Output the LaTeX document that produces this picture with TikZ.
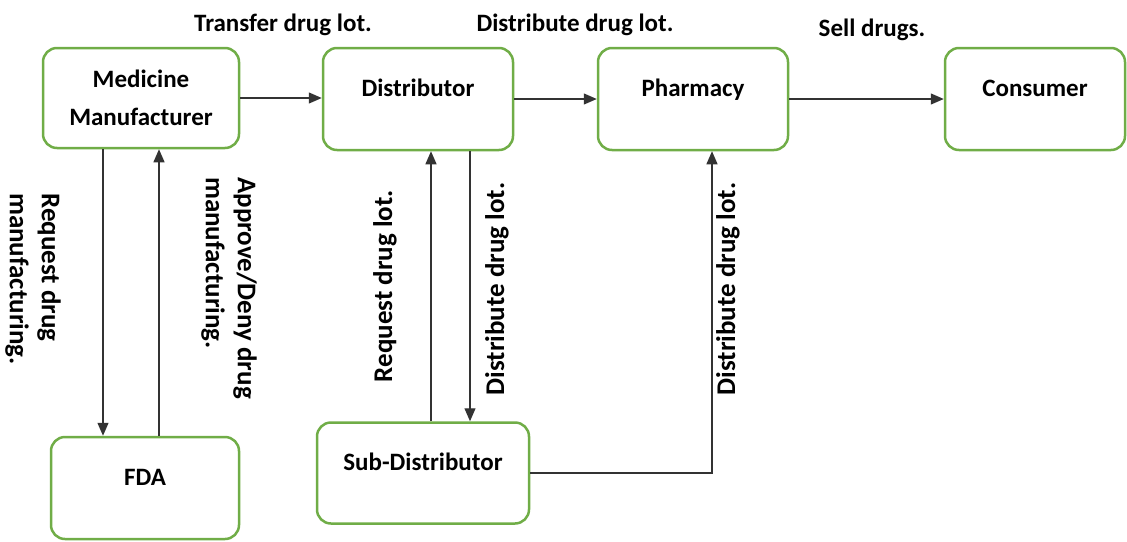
\documentclass[tikz,border=0pt]{standalone}
\usepackage{fontspec}
\setmainfont{Carlito}
\usetikzlibrary{arrows.meta}
\definecolor{boxgreen}{HTML}{70AD47}

\tikzset{actornode/.style={rectangle, draw=boxgreen, line width=2.5pt, rounded corners=14pt, font=\bfseries\fontsize{25}{38}\selectfont, align=center}}
\tikzset{singlenode/.style={actornode, text height=17pt, text depth=22pt}}
\tikzset{flowlabel/.style={font=\bfseries\fontsize{25}{31}\selectfont, align=left, inner sep=0pt}}
\tikzset{sidelabel/.style={flowlabel, font=\bfseries\fontsize{27}{32}\selectfont}}
\tikzset{flowarrow/.style={-{Triangle[length=13pt,width=11pt]}, line width=1.3pt, draw=black!80}}

\begin{document}
\begin{tikzpicture}[x=1pt,y=-1pt]
		\useasboundingbox (0,0) rectangle (1127,541);

		%actors
		\node[actornode, minimum width=196pt, minimum height=100pt] (manu) at (141,98) {Medicine\\Manufacturer};
		\node[singlenode, minimum width=190pt, minimum height=102pt] (dist) at (418,99) {Distributor};
		\node[singlenode, minimum width=190pt, minimum height=102pt] (pharm) at (693,99) {Pharmacy};
		\node[singlenode, minimum width=180pt, minimum height=102pt] (cons) at (1035,99) {Consumer};
		\node[singlenode, minimum width=188pt, minimum height=102pt] (fda) at (145,488) {FDA};
		\node[singlenode, minimum width=212pt, minimum height=101pt] (subdist) at (423,473) {Sub-Distributor};

		%supply chain
		\draw[flowarrow] (manu.east) -- (manu.east -| dist.west);
		\draw[flowarrow] (dist.east) -- (pharm.west);
		\draw[flowarrow] (pharm.east) -- (cons.west);

		\node[flowlabel, anchor=base] (transferlbl) at (283,31) {Transfer drug lot.};
		\node[flowlabel, anchor=base] (distlbl) at (575,31) {Distribute drug lot.};
		\node[flowlabel, anchor=base] (selllbl) at (872,36) {Sell drugs.};

		%approval
		\draw[flowarrow] ([xshift=-38pt]manu.south) -- ([xshift=-38pt]manu.south |- fda.north);
		\draw[flowarrow] ([xshift=14pt]fda.north) -- ([xshift=14pt]fda.north |- manu.south);

		\node[sidelabel, rotate=-90, anchor=west] (reqmanulbl) at (33,193) {Request drug\\manufacturing.};
		\node[sidelabel, rotate=-90, anchor=west] (approvelbl) at (229,177) {Approve/Deny drug\\manufacturing.};

		%sub-distribution
		\draw[flowarrow] ([xshift=8pt]subdist.north) -- ([xshift=8pt]subdist.north |- dist.south);
		\draw[flowarrow] ([xshift=52pt]dist.south) -- ([xshift=52pt]dist.south |- subdist.north);
		\draw[flowarrow] (subdist.east) -| ([xshift=19pt]pharm.south);

		\node[sidelabel, rotate=90] (reqlotlbl) at (385,286) {Request drug lot.};
		\node[sidelabel, rotate=90] (distlotlbl) at (497,289) {Distribute drug lot.};
		\node[sidelabel, rotate=90] (pharmlotlbl) at (728,289) {Distribute drug lot.};

	\end{tikzpicture}
\end{document}
